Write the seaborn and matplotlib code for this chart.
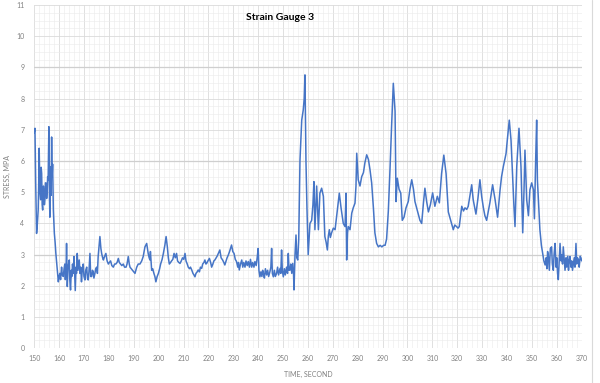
import numpy as np
import pandas as pd
import matplotlib
matplotlib.use('Agg')
import matplotlib.pyplot as plt
import seaborn as sns
from matplotlib.ticker import MultipleLocator
from matplotlib.lines import Line2D

# strain gauge 3 readings
time_s = [
    150.0, 150.3, 150.6, 150.95, 151.2, 151.6, 151.8, 152.0, 152.3, 152.6,
    152.8, 153.0, 153.2, 153.4, 153.7, 153.9, 154.1, 154.3, 154.5, 154.7,
    155.0, 155.2, 155.4, 155.6, 155.9, 156.1, 156.3, 156.5, 156.6, 156.8,
    157.0, 157.2, 157.4, 157.7, 158.1, 158.4, 158.7, 159.2, 159.7,
    160.0, 160.3, 160.6, 161.0, 161.3, 161.7, 162.0, 162.3, 162.5, 162.8,
    163.0, 163.3, 163.6, 164.1, 164.3, 164.6, 164.9, 165.1, 165.4, 165.7,
    166.0, 166.3, 166.5, 166.8, 167.0, 167.3, 167.6, 168.1, 168.4, 168.7,
    169.0, 169.3, 169.7, 170.0, 170.4, 170.7, 171.1, 171.4, 171.7, 172.0,
    172.4, 172.7, 173.1, 173.4, 173.7, 174.0, 174.4, 174.7, 175.1, 175.4,
    175.7,
    176.4, 176.8, 177.1, 177.5, 177.8, 178.3, 178.8, 179.3, 179.8, 180.2,
    180.7, 181.2, 181.8, 182.3, 182.8, 183.3, 183.8, 184.2, 184.7, 185.2,
    185.8, 186.3, 186.9, 187.3, 187.8, 188.2, 188.5, 189.0, 189.5, 190.0,
    190.5, 191.2, 191.8, 192.5, 193.2, 193.8, 194.5, 195.2, 195.8, 196.2,
    196.5, 196.7, 197.2, 197.6, 198.1, 198.5, 198.9, 199.4, 199.9, 200.4,
    200.8, 201.4, 201.9, 202.5, 203.0, 203.5, 203.9, 204.3,
    204.8, 205.2, 205.7, 206.2, 206.7, 207.2, 207.6, 208.1, 208.6, 209.1,
    209.6, 210.1, 210.6, 211.0, 211.5, 211.9, 212.4, 212.8, 213.3, 213.8,
    214.2, 214.6, 215.0, 215.5, 215.9, 216.4, 216.8, 217.3, 217.7, 218.2,
    218.6, 219.0, 219.3, 219.8, 220.4, 220.9, 221.3, 221.8, 222.2, 222.6,
    223.1, 223.5, 224.0, 224.6, 225.1, 225.7, 226.2, 226.6, 227.1, 227.5,
    228.0, 228.5, 228.9, 229.3, 229.8, 230.3, 230.8, 231.3, 231.8, 232.1,
    232.4, 232.9, 233.4, 233.8, 234.2, 234.7, 235.1, 235.6, 236.0, 236.5,
    236.9, 237.4, 237.8, 238.3, 238.7, 239.2, 239.6, 240.0, 240.3, 240.7,
    241.1, 241.5, 241.8, 242.1, 242.5, 242.9, 243.4, 243.8, 244.2, 244.7,
    245.1, 245.4, 245.7, 246.1, 246.5, 246.9, 247.4, 247.8, 248.2, 248.8,
    249.1, 249.4, 249.7, 250.1, 250.5, 250.9, 251.4, 251.8, 252.1, 252.4,
    252.8, 253.1, 253.5, 253.9, 254.2, 254.4, 254.8, 255.2, 255.5, 255.9,
    256.3,
    256.8, 257.2, 257.5, 258.1, 258.5, 258.8, 259.2, 259.6, 260.1, 260.5,
    260.8, 261.5, 262.0, 262.4, 262.8, 263.5, 264.2, 264.8, 265.5, 266.2,
    266.8, 267.3, 267.8, 268.2, 268.6, 269.0, 269.5, 270.2, 270.9, 271.5,
    272.0, 272.6, 273.3, 274.2, 274.9, 275.3, 275.55, 275.9, 276.2, 276.9,
    277.6, 278.2, 278.9, 279.3, 279.6, 280.2, 280.9, 281.6, 282.3, 282.9,
    283.6, 284.3, 284.9, 285.6, 286.3, 286.9, 287.6, 288.3, 289.0, 289.7,
    290.4, 291.0, 291.6, 292.3, 293.0, 293.6, 294.3, 295.0, 295.4, 295.9,
    296.6, 297.3, 297.9, 298.6, 299.4, 300.3, 301.0, 301.7, 302.4, 303.0,
    304.0, 305.0, 305.7, 306.4, 307.0, 307.7, 308.4, 309.2, 310.1, 311.0,
    312.0, 312.8, 313.7, 314.6, 315.5, 316.4, 317.0, 317.7, 318.4, 319.0,
    319.7, 320.3, 320.8, 321.8, 322.5, 323.1, 323.8, 324.4, 325.8, 326.4,
    327.5, 328.3, 329.1, 329.8, 330.5, 331.1, 331.8, 332.5, 333.1, 334.2,
    335.2, 336.2, 337.2, 337.8, 338.5, 339.6, 340.1, 340.9, 341.6, 342.3,
    342.8, 343.2, 343.9, 344.8, 345.6, 346.3, 346.8, 347.2, 347.9, 348.6,
    349.2, 349.9, 350.6, 351.0, 351.5, 351.9, 352.2, 352.6, 353.2, 353.8,
    354.3, 354.8, 355.3, 355.7, 356.0, 356.3, 356.6, 357.0, 357.4, 357.9,
    358.2, 358.6, 358.9, 359.3, 359.7, 360.0, 360.3, 360.6, 361.0, 361.3,
    361.7, 362.0, 362.3, 362.6, 363.0, 363.3, 363.7, 364.0, 364.4, 364.7,
    365.0, 365.3, 365.7, 366.0, 366.3, 366.6, 367.0, 367.3, 367.7, 368.0,
    368.3, 368.7, 369.0, 369.4, 369.7, 370.0,
]
stress_mpa = [
    6.9, 7.05, 5.3, 3.68, 3.9, 4.43, 5.2, 6.41, 5.0, 4.76,
    5.8, 5.6, 4.6, 4.43, 5.2, 4.98, 4.6, 4.76, 5.3, 5.3,
    4.8, 4.98, 5.5, 5.4, 7.1, 5.0, 4.2, 5.5, 5.82, 4.9,
    6.77, 5.5, 5.9, 4.43, 3.68, 3.4, 3.04, 2.6, 2.13,
    2.3, 2.4, 2.2, 2.6, 2.35, 2.3, 2.55, 2.7, 2.2, 2.5,
    3.36, 1.98, 2.6, 2.83, 2.2, 1.87, 2.5, 2.3, 2.7, 2.4,
    2.94, 2.3, 1.85, 2.6, 2.4, 3.04, 2.5, 2.83, 2.4, 2.6,
    2.13, 2.5, 2.7, 2.3, 2.19, 2.5, 2.6, 2.25, 2.19, 2.45,
    3.04, 2.3, 2.3, 2.5, 2.46, 2.25, 2.4, 2.55, 2.6, 2.4,
    2.94,
    3.58, 3.2, 3.04, 2.9, 2.83, 2.95, 3.04, 2.8, 2.7, 2.75,
    2.8, 2.65, 2.6, 2.7, 2.7, 2.75, 2.88, 2.75, 2.7, 2.65,
    2.7, 2.6, 2.6, 2.7, 2.94, 2.7, 2.6, 2.55, 2.5, 2.45,
    2.4, 2.6, 2.7, 2.7, 2.8, 2.94, 3.25, 3.36, 3.04, 2.9,
    2.83, 3.1, 2.5, 2.55, 2.4, 2.3, 2.13, 2.3, 2.4, 2.55,
    2.7, 2.85, 3.04, 3.3, 3.58, 3.25, 2.9, 2.7,
    2.75, 2.8, 2.85, 3.04, 2.9, 3.04, 2.8, 2.75, 2.72, 2.8,
    2.9, 2.85, 3.04, 2.8, 2.7, 2.6, 2.55, 2.6, 2.51, 2.4,
    2.35, 2.29, 2.4, 2.45, 2.51, 2.45, 2.6, 2.56, 2.7, 2.75,
    2.83, 2.7, 2.72, 2.8, 2.88, 2.75, 2.6, 2.7, 2.8, 2.83,
    2.9, 2.95, 3.04, 3.15, 2.9, 2.83, 2.75, 2.67, 2.8, 2.9,
    2.99, 3.1, 3.2, 3.31, 3.1, 3.04, 2.85, 2.78, 2.6, 2.75,
    2.51, 2.7, 2.83, 2.6, 2.75, 2.6, 2.8, 2.65, 2.78, 2.6,
    2.85, 2.6, 2.75, 2.6, 2.78, 2.65, 2.9, 3.2, 2.5, 2.29,
    2.45, 2.3, 2.5, 2.4, 2.25, 2.55, 2.35, 2.5, 2.3, 2.45,
    2.6, 3.2, 2.4, 2.29, 2.5, 2.3, 2.4, 2.6, 2.35, 2.56,
    2.4, 3.15, 2.5, 2.29, 2.55, 2.35, 2.6, 2.4, 3.04, 2.5,
    2.51, 2.7, 2.4, 2.72, 2.4, 1.87, 3.0, 3.63, 2.9, 2.83,
    3.5,
    6.03, 6.8, 7.31, 7.63, 8.0, 8.76, 6.0, 4.5, 3.0, 3.6,
    4.0, 4.1, 4.6, 5.34, 3.8, 5.2, 3.8, 4.97, 5.13, 4.87,
    3.58, 3.4, 3.15, 3.6, 3.8, 3.55, 3.7, 3.85, 3.8, 4.22,
    4.6, 4.97, 4.5, 4.0, 3.9, 4.97, 2.83, 3.7, 3.9, 3.8,
    4.33, 4.5, 4.65, 5.2, 6.25, 5.4, 5.2, 5.5, 5.63, 5.95,
    6.2, 6.05, 5.74, 5.3, 4.5, 3.7, 3.36, 3.25, 3.3, 3.25,
    3.3, 3.3, 3.5, 4.4, 5.8, 7.1, 8.49, 7.6, 4.7, 5.45,
    5.1, 4.97, 4.1, 4.2, 4.5, 4.7, 5.1, 5.4, 5.1, 4.7,
    4.4, 4.1, 4.0, 4.65, 5.13, 4.7, 4.37, 4.6, 4.98, 4.55,
    4.87, 4.66, 5.6, 6.19, 5.6, 4.37, 4.2, 4.0, 3.8, 3.95,
    3.9, 3.85, 3.9, 4.55, 4.4, 4.5, 4.45, 4.55, 5.24, 4.76,
    4.3, 4.8, 5.4, 4.87, 4.5, 4.25, 4.1, 4.4, 4.66, 5.24,
    4.76, 4.2, 5.08, 5.5, 5.82, 6.24, 6.67, 7.31, 6.67, 5.4,
    4.5, 3.9, 5.82, 7.05, 5.82, 3.7, 5.0, 6.35, 4.76, 4.25,
    5.08, 5.3, 5.08, 4.15, 6.03, 7.31, 5.4, 4.76, 3.8, 3.3,
    3.04, 2.8, 2.67, 2.9, 2.55, 3.1, 2.94, 2.5, 3.2, 3.25,
    2.7, 2.5, 3.0, 3.36, 2.6, 2.9, 2.4, 2.2, 2.9, 3.36,
    2.8, 3.0, 2.7, 3.25, 2.8, 2.5, 2.9, 2.6, 2.95, 2.5,
    2.8, 2.94, 2.6, 2.8, 2.5, 2.67, 2.9, 2.6, 3.36, 2.7,
    2.9, 2.83, 2.6, 2.95, 2.9, 2.8,
]
assert len(time_s) == len(stress_mpa)

x_ticks = list(range(150, 371, 10))
y_ticks = list(range(0, 12))

sns.set_style('white')
plt.rcParams['font.family'] = ['Lato', 'DejaVu Sans']

fig = plt.figure(figsize=(6, 3.83), dpi=100)
ax = fig.add_axes([0.057, 0.0906, 0.9125, 0.8964])

df = pd.DataFrame({'time': time_s, 'stress': stress_mpa})
sns.lineplot(data=df, x='time', y='stress', ax=ax, color='#4675C6',
             linewidth=1.1, sort=False, estimator=None, zorder=5)

ax.set_xlim(150, 370)
ax.set_ylim(0, 11)
ax.set_xticks(x_ticks)
ax.set_yticks(y_ticks)
ax.xaxis.set_minor_locator(MultipleLocator(2))
ax.yaxis.set_minor_locator(MultipleLocator(0.25))
ax.grid(which='major', axis='both', color='#dadada', linewidth=0.6)
ax.grid(which='minor', axis='both', color='#ebebeb', linewidth=0.4)
for yv in [3, 6, 9]:
    ax.axhline(yv, color='#cfcfcf', linewidth=0.9, zorder=1)
ax.set_axisbelow(True)
for s in ax.spines.values():
    s.set_visible(False)
ax.tick_params(which='both', length=0, labelsize=5, colors='#808080')
ax.tick_params(axis='x', pad=5)
ax.tick_params(axis='y', pad=7)

ax.set_xlabel('TIME, SECOND', fontsize=5, color='#808080', labelpad=6)
ax.set_ylabel('STRESS, MPA', fontsize=5, color='#808080', labelpad=4)

fig.text(280 / 600, 1 - 17 / 383, 'Strain Gauge 3', ha='center', va='center',
         fontsize=7.5, fontweight='bold', color='#000000')
fig.add_artist(Line2D([592 / 600, 592 / 600], [0, 1], color='#d9d9d9',
                      linewidth=0.8, transform=fig.transFigure))

fig.savefig('out.png', dpi=100)
